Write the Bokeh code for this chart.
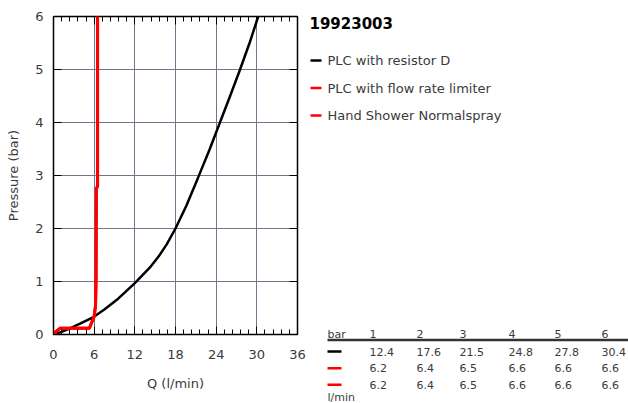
from bokeh.plotting import figure
from bokeh.models import Range1d, FixedTicker, LinearAxis
from bokeh.layouts import row
from bokeh.embed import file_html
from bokeh.resources import INLINE
from bokeh.core.properties import value

# ---------------- data ----------------
chart_title = "19923003"
series_names = ["PLC with resistor D", "PLC with flow rate limiter", "Hand Shower Normalspray"]
series_colors = ["#000000", "#ff0000", "#ff0000"]

resistor_q = [0, 1.2, 2.5, 4.0, 5.9, 7.5, 9.3, 10.5, 12.0, 14.2, 15.5, 16.7, 18.0, 19.6, 21.3, 23.0, 24.5, 26.0, 27.5, 28.9, 30.2]
resistor_p = [0, 0.05, 0.12, 0.21, 0.33, 0.47, 0.65, 0.79, 0.97, 1.26, 1.47, 1.70, 2.0, 2.43, 2.95, 3.48, 3.98, 4.48, 4.99, 5.49, 6.0]

limiter_q = [0, 0.4, 1.0, 5.3, 6.0, 6.2, 6.28, 6.32, 6.5, 6.5]
limiter_p = [0, 0.06, 0.12, 0.12, 0.34, 0.55, 1.05, 2.75, 2.8, 6.0]

shower_q = [0, 0.4, 1.0, 5.3, 6.0, 6.2, 6.28, 6.32, 6.5, 6.5]
shower_p = [0, 0.06, 0.12, 0.12, 0.34, 0.55, 1.05, 2.75, 2.8, 6.0]

table_bar = [1, 2, 3, 4, 5, 6]
table_resistor = [12.4, 17.6, 21.5, 24.8, 27.8, 30.4]
table_limiter = [6.2, 6.4, 6.5, 6.6, 6.6, 6.6]
table_shower = [6.2, 6.4, 6.5, 6.6, 6.6, 6.6]

x_ticks = [0, 6, 12, 18, 24, 30, 36]
x_minor = [round(i * 1.2, 1) for i in range(31) if i % 5 != 0]
y_ticks = [0, 1, 2, 3, 4, 5, 6]

FONT = "DejaVu Sans"
TXT = "#3a3a3a"
GRID = "#6f7789"

W1, H = 308, 403
W2 = 628 - W1

# ---------------- main chart ----------------
p = figure(width=W1, height=H, x_range=Range1d(0, 36), y_range=Range1d(0, 6),
           output_backend="svg", toolbar_location=None,
           min_border_left=53, min_border_right=11, min_border_top=16, min_border_bottom=69,
           x_axis_label="Q (l/min)", y_axis_label="Pressure (bar)")
p.frame_align = False
p.outline_line_color = "black"
p.outline_line_width = 1.5
p.background_fill_color = "white"
p.border_fill_color = "white"

p.xaxis.ticker = FixedTicker(ticks=x_ticks, minor_ticks=x_minor)
p.yaxis.ticker = FixedTicker(ticks=y_ticks, minor_ticks=[])
p.xgrid.ticker = FixedTicker(ticks=x_ticks[1:-1])
p.ygrid.ticker = FixedTicker(ticks=y_ticks[1:-1])
p.grid.grid_line_color = GRID
p.grid.grid_line_width = 1

for ax in [p.xaxis[0], p.yaxis[0]]:
    ax.axis_line_color = "black"
    ax.major_tick_in = 8
    ax.major_tick_out = 0
    ax.minor_tick_in = 5
    ax.minor_tick_out = 0
    ax.major_tick_line_color = "black"
    ax.minor_tick_line_color = "black"
    ax.major_label_text_font = FONT
    ax.major_label_text_font_size = "13px"
    ax.major_label_text_color = TXT
    ax.axis_label_text_font = FONT
    ax.axis_label_text_font_size = "13px"
    ax.axis_label_text_font_style = "normal"
    ax.axis_label_text_color = TXT
p.xaxis.major_label_standoff = 15
p.xaxis.axis_label_standoff = 14
p.yaxis.major_label_standoff = 10
p.yaxis.axis_label_standoff = 11
p.yaxis.minor_tick_line_color = None

top = LinearAxis(ticker=FixedTicker(ticks=x_ticks, minor_ticks=x_minor))
right = LinearAxis(ticker=FixedTicker(ticks=y_ticks, minor_ticks=[]))
for ax in [top, right]:
    ax.axis_line_color = None
    ax.major_tick_in = 8
    ax.major_tick_out = 0
    ax.minor_tick_in = 5
    ax.minor_tick_out = 0
    ax.major_tick_line_color = "black"
    ax.minor_tick_line_color = "black"
    ax.major_label_text_font_size = "0px"
    ax.major_label_standoff = 0
right.minor_tick_line_color = None
p.add_layout(top, "above")
p.add_layout(right, "right")

p.line(resistor_q, resistor_p, line_color=series_colors[0], line_width=2.5)
p.line(limiter_q, limiter_p, line_color=series_colors[1], line_width=3)
p.line(shower_q, shower_p, line_color=series_colors[2], line_width=3)

# ---------------- side panel (title, legend, table) ----------------
p2 = figure(width=W2, height=H, x_range=Range1d(0, W2), y_range=Range1d(H, 0),
            output_backend="svg", toolbar_location=None, min_border=0,
            x_axis_location=None, y_axis_location=None)
p2.frame_align = False
p2.grid.visible = False
p2.outline_line_color = None

OX, OY = W1, 0  # page offsets of this panel


def sx(v):
    return v - OX


def sy(v):
    return v - OY


p2.text(x=[sx(309)], y=[sy(22.5)], text=[chart_title], text_font=value(FONT),
        text_font_size="15px", text_font_style="bold", text_color="black",
        text_baseline="middle", text_align="left")

leg_y = [sy(60 + i * 27.5) for i in range(len(series_names))]
p2.segment(x0=[sx(310)] * 3, x1=[sx(321)] * 3, y0=leg_y, y1=leg_y,
           line_color=series_colors, line_width=2.5)
p2.text(x=[sx(327)] * 3, y=leg_y, text=series_names, text_font=value(FONT),
        text_font_size="13px", text_color=TXT, text_baseline="middle", text_align="left")

# table
col_x = [sx(v) for v in (369, 416, 459, 508, 554, 601)][:len(table_bar)]
hdr_y = sy(333.5)
p2.text(x=[sx(327)], y=[hdr_y], text=["bar"], text_font=value(FONT), text_font_size="11px",
        text_color=TXT, text_baseline="middle", text_align="left")
p2.text(x=col_x, y=[hdr_y] * 6, text=[str(b) for b in table_bar], text_font=value(FONT),
        text_font_size="11px", text_color=TXT, text_baseline="middle", text_align="left")
p2.segment(x0=[sx(327)], x1=[W2], y0=[sy(339.5)], y1=[sy(339.5)], line_color="#333333",
           line_width=2.5)

rows_vals = [table_resistor, table_limiter, table_shower]
row_y = [sy(351), sy(367.7), sy(384.3)]
p2.segment(x0=[sx(327)] * 3, x1=[sx(341)] * 3, y0=row_y, y1=row_y,
           line_color=series_colors, line_width=2.5)
for vals, yy in zip(rows_vals, row_y):
    p2.text(x=col_x, y=[yy] * 6, text=[f"{v:.1f}" for v in vals], text_font=value(FONT),
            text_font_size="11px", text_color=TXT, text_baseline="middle", text_align="left")
p2.text(x=[sx(327)], y=[sy(396.5)], text=["l/min"], text_font=value(FONT), text_font_size="11px",
        text_color=TXT, text_baseline="middle", text_align="left")

layout = row(p, p2)
open("out.html", "w").write(file_html(layout, INLINE))
